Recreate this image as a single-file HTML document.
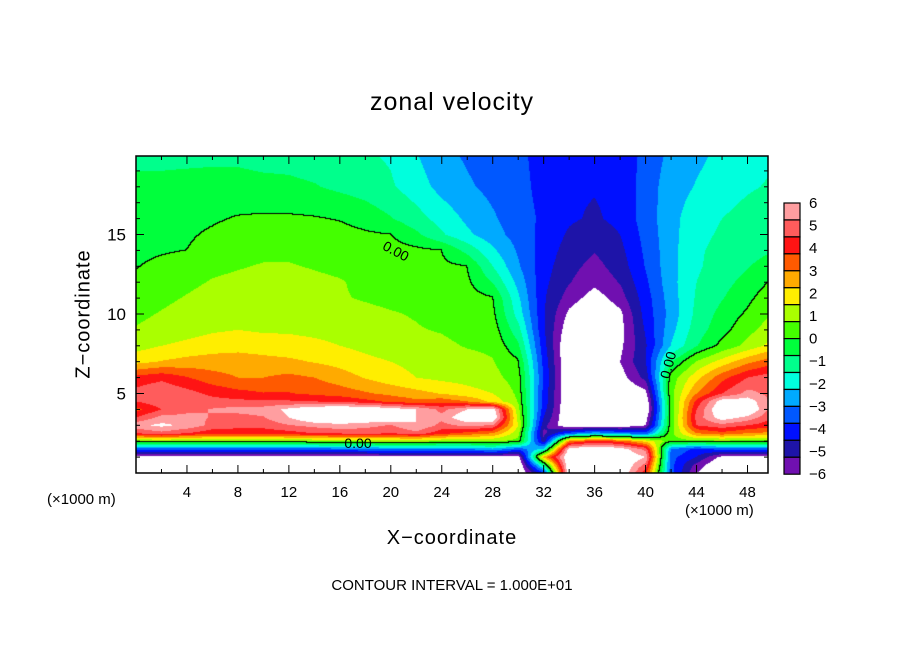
<!DOCTYPE html>
<html><head><meta charset="utf-8"><style>
html,body{margin:0;padding:0;background:#fff;}
#wrap{position:relative;width:904px;height:654px;overflow:hidden;font-family:"Liberation Sans",sans-serif;color:#000;}
.t{position:absolute;white-space:nowrap;}
canvas{position:absolute;left:136px;top:156px;}
svg{position:absolute;left:0;top:0;}
</style></head><body>
<div id="wrap">
<canvas id="cv" width="632" height="317"></canvas>
<svg id="ov" width="904" height="654"></svg>
<div class="t" style="left:0;width:904px;top:88px;text-align:center;font-size:25px;letter-spacing:1px">zonal velocity</div>
<div class="t" style="left:0;width:904px;top:527px;text-align:center;font-size:20px;letter-spacing:1px">X−coordinate</div>
<div class="t" style="left:84px;top:314px;transform:translate(-50%,-50%) rotate(-90deg);font-size:20px;letter-spacing:1px">Z−coordinate</div>
<div class="t" style="left:0;width:904px;top:577px;text-align:center;font-size:15px">CONTOUR INTERVAL = 1.000E+01</div>
<div class="t" style="left:47px;top:491px;font-size:15px">(×1000 m)</div>
<div class="t" style="left:685px;top:502px;font-size:15px">(×1000 m)</div>
</div>
<script>
const xNodes=[0,2,4,6,8,10,12,14,16,18,20,22,24,26,28,30,32,34,36,38,40,42,44,46,48,50];
const zNodes=[20,18,16,15,14,13,12,11,10,9,8,7,6,5,4.5,4,3.5,3,2.5,2,1.5,1,0.5,0];
const u20=[-0.9,-0.9,-0.9,-0.9,-0.9,-1.0,-1.0,-1.1,-1.2,-1.4,-1.6,-2.2,-2.8,-3.1,-3.3,-3.6,-4.0,-4.3,-4.4,-4.3,-3.5,-2.8,-2.4,-2.1,-1.8,-1.6];
const u18=[-0.6,-0.6,-0.55,-0.5,-0.5,-0.55,-0.6,-0.7,-0.9,-1.1,-1.4,-1.9,-2.5,-2.9,-3.2,-3.5,-4.0,-4.4,-4.45,-4.3,-3.4,-2.6,-2.2,-1.9,-1.6,-1.4];
const u16=[-0.3,-0.25,-0.2,-0.1,0.05,0.1,0.1,0.05,-0.05,-0.3,-0.7,-1.2,-1.8,-2.4,-2.9,-3.4,-3.9,-4.4,-4.6,-4.3,-3.4,-2.5,-1.8,-1.5,-1.2,-1.0];
const u15=[-0.3,-0.2,-0.1,0.1,0.3,0.4,0.4,0.35,0.25,0.1,0.0,-0.6,-1.4,-2.1,-2.7,-3.3,-4.0,-4.6,-4.9,-4.5,-3.5,-2.5,-1.7,-1.4,-1.1,-0.9];
const u14=[-0.2,-0.1,0.0,0.3,0.5,0.6,0.6,0.55,0.5,0.4,0.3,0.15,0.0,-1.0,-2.1,-3.1,-4.1,-4.8,-5.2,-4.7,-3.6,-2.5,-1.6,-1.3,-1.0,-0.8];
const u13=[-0.05,0.2,0.4,0.6,0.7,0.8,0.8,0.7,0.6,0.5,0.4,0.3,0.15,0.0,-1.5,-2.9,-4.2,-5.0,-5.5,-4.9,-3.7,-2.5,-1.6,-1.2,-0.8,-0.4];
const u12=[0.2,0.4,0.6,0.8,0.9,1.0,1.0,0.9,0.8,0.6,0.5,0.4,0.3,0.15,-0.8,-2.5,-4.3,-5.2,-5.8,-5.2,-3.9,-2.5,-1.5,-1.0,-0.5,0.1];
const u11=[0.4,0.6,0.8,1.0,1.1,1.1,1.0,1.0,0.8,0.7,0.6,0.5,0.4,0.3,0.05,-2.1,-4.4,-5.6,-6.4,-5.6,-4.1,-2.6,-1.4,-0.8,-0.2,0.5];
const u10=[0.6,0.8,1.0,1.2,1.2,1.2,1.2,1.1,1.0,0.9,0.8,0.7,0.5,0.4,0.2,-1.8,-4.4,-6.2,-7,-6.2,-4.2,-2.7,-1.3,-0.5,0.1,0.8];
const u9=[0.8,1.0,1.2,1.4,1.5,1.4,1.4,1.3,1.2,1.0,0.9,0.8,0.7,0.5,0.4,-1.2,-4.4,-6.6,-7,-6.3,-4.4,-2.5,-1.1,-0.3,0.5,1.2];
const u8=[1.2,1.5,1.7,1.9,2.0,1.9,1.8,1.7,1.5,1.3,1.1,1.0,0.9,0.7,0.6,-0.6,-4.2,-7,-7,-6.2,-4.6,-2.2,-0.8,0.2,1.0,1.8];
const u7=[2.0,2.3,2.5,2.6,2.6,2.5,2.4,2.2,2.0,1.7,1.5,1.3,1.1,1.0,0.8,0.1,-4.0,-7,-7,-6.0,-4.5,-0.8,0.8,1.8,2.8,3.5];
const u6=[4.0,4.3,3.8,3.3,3.0,3.0,3.2,3.0,2.6,2.2,1.8,1.5,1.3,1.2,1.0,0.4,-3.8,-7,-7,-6.4,-5.0,0.3,2.0,3.5,4.5,5.0];
const u5=[4.8,5.2,4.8,4.3,4.0,3.8,3.8,3.6,3.4,3.1,2.8,2.5,2.2,1.8,1.5,0.6,-4.0,-7,-7,-7,-6.3,0.5,3.0,4.5,5.5,5.0];
const u45=[4.5,5.0,5.0,4.8,4.7,4.6,4.6,4.5,4.4,4.0,3.6,3.2,3.5,3.0,2.0,0.7,-4.0,-7,-7,-7,-6.8,0.3,4.0,6.5,6.5,5.0];
const u4=[3.5,4.5,5.0,5.3,5.5,5.6,6.2,6.8,7,7,6.5,6.0,5.0,6.0,6.5,1.0,-4.2,-7,-7,-7,-7,0.2,4.5,7,7,4.8];
const u35=[4.5,5.5,5.5,5.2,5.0,5.2,6.0,7,7,7,7,6.0,5.5,6.8,7,1.2,-4.5,-7,-7,-7,-6.5,0.2,4.8,6.5,5.8,4.5];
const u3=[5.8,6.2,5.8,5.0,4.8,4.8,5.2,5.5,5.8,5.5,5.2,6.0,5.0,5.5,5.2,1.5,-5.0,-6.8,-6.8,-6.8,-6.0,0.3,4.5,5.0,4.5,4.0];
const u25=[4.5,5.0,4.5,4.0,4.0,4.0,4.2,4.5,4.6,4.8,4.5,5.0,4.0,3.5,3.0,1.0,-5.5,-3.5,-2.5,-3.0,-3.5,0.5,3.0,3.5,3.0,2.8];
const u2=[0.6,0.6,0.6,0.5,0.5,0.5,0.6,0.7,0.8,0.9,1.0,1.0,0.8,0.8,0.8,0.5,-5.0,3.0,4.0,3.5,2.0,0.3,0.5,0.5,0.5,0.5];
const u15b=[-3.5,-3.5,-3.5,-3.5,-3.5,-3.5,-3.5,-3.4,-3.3,-3.2,-3.0,-3.0,-3.0,-3.0,-2.5,-3.5,-2.0,6.5,7,6.5,5.0,-3.0,-4.0,-3.5,-3.5,-3.5];
const u1=[-6.3,-6.3,-6.3,-6.3,-6.3,-6.3,-6.3,-6.3,-6.3,-6.3,-6.3,-6.3,-6.3,-6.3,-6.3,-6.5,2.5,7,7,7,6,-3.5,-4.5,-6.3,-6.3,-6.3];
const u05=[-7,-7,-7,-7,-7,-7,-7,-7,-7,-7,-7,-7,-7,-7,-7,-7,-1,7,7,7,5,-3.5,-5.5,-7,-7,-7];
const u0=[-7,-7,-7,-7,-7,-7,-7,-7,-7,-7,-7,-7,-7,-7,-7,-7,-4,7,7,7,4,-3.5,-6,-7,-7,-7];
const rows=[u20,u18,u16,u15,u14,u13,u12,u11,u10,u9,u8,u7,u6,u5,u45,u4,u35,u3,u25,u2,u15b,u1,u05,u0];
const levelColors=["#ff9ea0","#ff5c5c","#ff1414","#ff5a00","#ffaa00","#ffee00","#aaff00","#44ff00","#00ff3c","#00ff8c","#00ffdd","#00aaff","#0058ff","#0010ff","#1e14a8","#7010b0"];
const cbLabels=["6","5","4","3","2","1","0","−1","−2","−3","−4","−5","−6"];
const xTickLabels=[4,8,12,16,20,24,28,32,36,40,44,48];
const zTickLabels=[5,10,15];

const PX=632,PY=317,X0=136,Y0=156,KX=12.74,KZ=15.9;
const xs=X=>X0+X*KX, zs=Z=>Y0+PY-Z*KZ;
function val(X,Z){
  let i=Math.min(xNodes.length-2,Math.max(0,Math.floor(X/2)));
  let tx=(X-xNodes[i])/(xNodes[i+1]-xNodes[i]);tx=Math.max(0,Math.min(1,tx));
  let j=0;while(j<zNodes.length-2&&Z<zNodes[j+1])j++;
  let tz=(zNodes[j]-Z)/(zNodes[j]-zNodes[j+1]);tz=Math.max(0,Math.min(1,tz));
  const a=rows[j][i],b=rows[j][i+1],c=rows[j+1][i],d=rows[j+1][i+1];
  return (a*(1-tx)+b*tx)*(1-tz)+(c*(1-tx)+d*tx)*tz;
}
function hex(h){return [parseInt(h.substr(1,2),16),parseInt(h.substr(3,2),16),parseInt(h.substr(5,2),16)];}
const rgb=levelColors.map(hex);
function colorOf(v){if(v>6||v<-6)return [255,255,255];let k=Math.floor((6-v)/0.75);k=Math.max(0,Math.min(15,k));return rgb[k];}
const cv=document.getElementById('cv'),ctx=cv.getContext('2d');
const img=ctx.createImageData(PX,PY);
const V=new Float32Array(PX*PY);
for(let py=0;py<PY;py++)for(let px=0;px<PX;px++)V[py*PX+px]=val((px+0.5)/KX,(PY-py-0.5)/KZ);
for(let py=0;py<PY;py++)for(let px=0;px<PX;px++){
  const v=V[py*PX+px];let c=colorOf(v);
  let edge=false;
  for(const [dx,dy] of [[1,0],[0,1],[1,1]]){const qx=px+dx,qy=py+dy;if(qx<PX&&qy<PY){const w=V[qy*PX+qx];if((v>0)!==(w>0)){edge=true;}}}
  if(edge)c=[0,0,0];
  const o=(py*PX+px)*4;img.data[o]=c[0];img.data[o+1]=c[1];img.data[o+2]=c[2];img.data[o+3]=255;
}
ctx.putImageData(img,0,0);

const NS="http://www.w3.org/2000/svg",ov=document.getElementById('ov');
function el(tag,attrs){const e=document.createElementNS(NS,tag);for(const k in attrs)e.setAttribute(k,attrs[k]);ov.appendChild(e);return e;}
let fr=el('rect',{x:X0,y:Y0,width:PX,height:PY,fill:'none',stroke:'#000','stroke-width':1.5});


for(let X=2;X<50;X+=2){const L=(X%4===0)?8:4;
  let t1=el('line',{x1:xs(X),x2:xs(X),y1:Y0+PY,y2:Y0+PY-L,stroke:'#000'});
  
  
  let t2=el('line',{x1:xs(X),x2:xs(X),y1:Y0,y2:Y0+L,stroke:'#000'});
  
  }
for(let Z=1;Z<20;Z++){const L=(Z%5===0)?8:4;
  let t1=el('line',{x1:X0,x2:X0+L,y1:zs(Z),y2:zs(Z),stroke:'#000'});
  
  
  let t2=el('line',{x1:X0+PX,x2:X0+PX-L,y1:zs(Z),y2:zs(Z),stroke:'#000'});
  
  }
xTickLabels.forEach(X=>{const t=el('text',{x:xs(X),y:497,'text-anchor':'middle','font-size':15,'font-family':'Liberation Sans, sans-serif'});t.textContent=X;
  
  });
zTickLabels.forEach(Z=>{const t=el('text',{x:126,y:zs(Z)+6,'text-anchor':'end','font-size':17,'font-family':'Liberation Sans, sans-serif'});t.textContent=Z;
  
  });
[[396,256,28,'0.00'],[358,448,0,'0.00'],[668,370,-75,'0.00']].forEach(a=>{const t=el('text',{x:a[0],y:a[1],'text-anchor':'middle','font-size':14,'font-family':'Liberation Sans, sans-serif',transform:`rotate(${a[2]} ${a[0]} ${a[1]-5})`});t.textContent=a[3];
  
  });
const cbTop=203,cbStep=22.6*0.75;
levelColors.forEach((c,k)=>{const r=el('rect',{x:784,y:cbTop+k*cbStep,width:16,height:cbStep,fill:c,stroke:'#000','stroke-width':1.2});
  
  });
cbLabels.forEach((s,k)=>{const t=el('text',{x:809,y:cbTop+k*22.6+5,'font-size':15,'font-family':'Liberation Sans, sans-serif'});t.textContent=s;
  
  });
</script>
</body></html>
